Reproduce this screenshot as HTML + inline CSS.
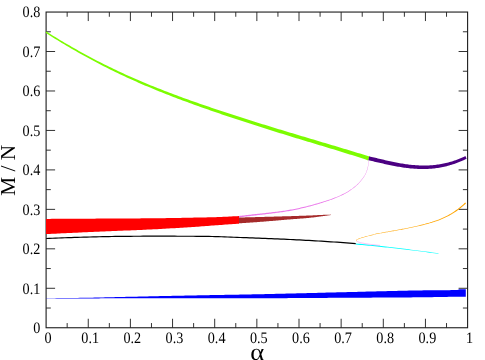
<!DOCTYPE html>
<html><head><meta charset="utf-8"><title>plot</title>
<style>html,body{margin:0;padding:0;background:#fff;}svg{display:block;}.t{font-family:"Liberation Serif",serif;fill:#000;text-rendering:geometricPrecision;filter:grayscale(1);}</style>
</head><body>
<svg width="485" height="360" viewBox="0 0 485 360">
<rect x="0" y="0" width="485" height="360" fill="#fff"/>
<path d="M67.17 327.75 V323.05 M67.17 12.05 V16.75 M88.25 327.75 V318.75 M88.25 12.05 V21.05 M109.33 327.75 V323.05 M109.33 12.05 V16.75 M130.40 327.75 V318.75 M130.40 12.05 V21.05 M151.47 327.75 V323.05 M151.47 12.05 V16.75 M172.55 327.75 V318.75 M172.55 12.05 V21.05 M193.62 327.75 V323.05 M193.62 12.05 V16.75 M214.70 327.75 V318.75 M214.70 12.05 V21.05 M235.78 327.75 V323.05 M235.78 12.05 V16.75 M256.85 327.75 V318.75 M256.85 12.05 V21.05 M277.93 327.75 V323.05 M277.93 12.05 V16.75 M299.00 327.75 V318.75 M299.00 12.05 V21.05 M320.08 327.75 V323.05 M320.08 12.05 V16.75 M341.15 327.75 V318.75 M341.15 12.05 V21.05 M362.23 327.75 V323.05 M362.23 12.05 V16.75 M383.30 327.75 V318.75 M383.30 12.05 V21.05 M404.38 327.75 V323.05 M404.38 12.05 V16.75 M425.45 327.75 V318.75 M425.45 12.05 V21.05 M446.53 327.75 V323.05 M446.53 12.05 V16.75 M46.10 308.02 H50.80 M467.60 308.02 H462.90 M46.10 288.29 H55.10 M467.60 288.29 H458.60 M46.10 268.56 H50.80 M467.60 268.56 H462.90 M46.10 248.82 H55.10 M467.60 248.82 H458.60 M46.10 229.09 H50.80 M467.60 229.09 H462.90 M46.10 209.36 H55.10 M467.60 209.36 H458.60 M46.10 189.63 H50.80 M467.60 189.63 H462.90 M46.10 169.90 H55.10 M467.60 169.90 H458.60 M46.10 150.17 H50.80 M467.60 150.17 H462.90 M46.10 130.44 H55.10 M467.60 130.44 H458.60 M46.10 110.71 H50.80 M467.60 110.71 H462.90 M46.10 90.98 H55.10 M467.60 90.98 H458.60 M46.10 71.24 H50.80 M467.60 71.24 H462.90 M46.10 51.51 H55.10 M467.60 51.51 H458.60 M46.10 31.78 H50.80 M467.60 31.78 H462.90" fill="none" stroke="#1c1c1c" stroke-width="0.9"/>
<rect x="46.10" y="12.05" width="421.50" height="315.70" fill="none" stroke="#1c1c1c" stroke-width="1.10"/>
<path d="M45.60 32.86 L47.92 34.33 L50.24 35.78 L52.56 37.23 L54.88 38.66 L57.20 40.09 L59.52 41.51 L61.84 42.91 L64.16 44.31 L66.48 45.69 L68.80 47.06 L71.12 48.42 L73.44 49.77 L75.76 51.11 L78.08 52.43 L80.40 53.74 L82.72 55.04 L85.04 56.33 L87.36 57.60 L89.68 58.87 L92.00 60.12 L94.32 61.35 L96.64 62.58 L98.97 63.79 L101.29 64.99 L103.61 66.18 L105.93 67.36 L108.25 68.52 L110.57 69.67 L112.89 70.82 L115.21 71.94 L117.54 73.06 L119.86 74.17 L122.18 75.26 L124.50 76.35 L126.82 77.42 L129.14 78.48 L131.46 79.53 L133.79 80.58 L136.11 81.61 L138.43 82.63 L140.75 83.64 L143.07 84.64 L145.39 85.63 L147.71 86.62 L150.04 87.59 L152.36 88.55 L154.68 89.51 L157.00 90.46 L159.32 91.40 L161.64 92.33 L163.96 93.25 L166.29 94.17 L168.61 95.08 L170.93 95.98 L173.25 96.88 L175.57 97.77 L177.89 98.65 L180.21 99.52 L182.53 100.39 L184.86 101.26 L187.18 102.11 L189.50 102.97 L191.82 103.81 L194.14 104.65 L196.46 105.49 L198.78 106.32 L201.10 107.15 L203.42 107.97 L205.74 108.79 L208.06 109.60 L210.39 110.41 L212.71 111.21 L215.03 112.01 L217.35 112.81 L219.67 113.60 L221.99 114.39 L224.31 115.18 L226.63 115.96 L228.95 116.73 L231.27 117.51 L233.59 118.28 L235.91 119.05 L238.24 119.81 L240.56 120.57 L242.88 121.33 L245.20 122.09 L247.52 122.84 L249.84 123.60 L252.16 124.34 L254.48 125.09 L256.80 125.83 L259.12 126.58 L261.44 127.32 L263.76 128.05 L266.09 128.79 L268.41 129.52 L270.73 130.25 L273.05 130.98 L275.37 131.71 L277.69 132.43 L280.01 133.15 L282.33 133.87 L284.65 134.58 L286.97 135.30 L289.30 136.01 L291.62 136.72 L293.94 137.43 L296.26 138.14 L298.58 138.84 L300.90 139.55 L303.22 140.25 L305.55 140.95 L307.87 141.66 L310.19 142.36 L312.51 143.06 L314.83 143.76 L317.15 144.46 L319.47 145.16 L321.79 145.86 L324.11 146.56 L326.43 147.26 L328.75 147.96 L331.07 148.66 L333.39 149.37 L335.71 150.07 L338.03 150.78 L340.35 151.49 L342.66 152.21 L344.98 152.93 L347.30 153.65 L349.61 154.38 L351.93 155.11 L354.24 155.85 L356.56 156.59 L358.87 157.33 L361.18 158.09 L363.50 158.84 L365.81 159.61 L368.12 160.39 L369.38 156.59 L367.05 155.84 L364.72 155.09 L362.38 154.35 L360.05 153.62 L357.72 152.89 L355.39 152.17 L353.07 151.45 L350.74 150.74 L348.41 150.04 L346.08 149.33 L343.75 148.64 L341.43 147.94 L339.10 147.24 L336.78 146.54 L334.45 145.85 L332.13 145.15 L329.80 144.46 L327.48 143.77 L325.15 143.08 L322.83 142.38 L320.51 141.69 L318.18 141.00 L315.86 140.31 L313.54 139.62 L311.22 138.93 L308.89 138.24 L306.57 137.55 L304.25 136.85 L301.92 136.16 L299.60 135.46 L297.28 134.77 L294.96 134.07 L292.63 133.37 L290.31 132.67 L287.99 131.97 L285.67 131.26 L283.35 130.56 L281.02 129.85 L278.70 129.15 L276.38 128.44 L274.05 127.73 L271.73 127.02 L269.41 126.31 L267.08 125.59 L264.76 124.87 L262.44 124.15 L260.11 123.43 L257.79 122.71 L255.47 121.98 L253.14 121.25 L250.82 120.52 L248.50 119.79 L246.18 119.05 L243.85 118.31 L241.53 117.57 L239.21 116.83 L236.88 116.08 L234.56 115.33 L232.24 114.57 L229.91 113.82 L227.59 113.06 L225.27 112.30 L222.95 111.53 L220.62 110.76 L218.30 109.99 L215.98 109.21 L213.65 108.43 L211.33 107.65 L209.01 106.86 L206.68 106.07 L204.36 105.28 L202.04 104.48 L199.71 103.67 L197.39 102.86 L195.07 102.05 L192.75 101.23 L190.42 100.40 L188.10 99.57 L185.78 98.74 L183.45 97.90 L181.13 97.05 L178.81 96.20 L176.49 95.34 L174.16 94.47 L171.84 93.60 L169.52 92.72 L167.20 91.83 L164.87 90.94 L162.55 90.03 L160.23 89.12 L157.91 88.21 L155.58 87.28 L153.26 86.35 L150.94 85.40 L148.62 84.45 L146.29 83.49 L143.97 82.52 L141.65 81.54 L139.33 80.55 L137.00 79.55 L134.68 78.55 L132.36 77.53 L130.04 76.50 L127.71 75.46 L125.39 74.41 L123.07 73.34 L120.75 72.27 L118.42 71.19 L116.10 70.09 L113.78 68.99 L111.46 67.87 L109.13 66.74 L106.81 65.59 L104.49 64.44 L102.17 63.27 L99.84 62.09 L97.52 60.90 L95.20 59.69 L92.88 58.47 L90.55 57.24 L88.23 56.00 L85.91 54.74 L83.58 53.48 L81.26 52.20 L78.94 50.90 L76.61 49.60 L74.29 48.28 L71.97 46.95 L69.64 45.61 L67.32 44.26 L65.00 42.89 L62.67 41.52 L60.35 40.13 L58.02 38.73 L55.70 37.32 L53.37 35.90 L51.05 34.48 L48.72 33.04 L46.40 31.59Z" fill="#7cfc00"/>
<path d="M368.31 160.25 L369.54 160.52 L370.77 160.80 L372.00 161.08 L373.23 161.36 L374.46 161.64 L375.69 161.92 L376.92 162.21 L378.15 162.49 L379.39 162.77 L380.62 163.06 L381.86 163.34 L383.09 163.61 L384.33 163.89 L385.56 164.16 L386.80 164.43 L388.04 164.70 L389.28 164.96 L390.52 165.22 L391.76 165.47 L393.00 165.72 L394.24 165.96 L395.48 166.19 L396.72 166.42 L397.96 166.64 L399.21 166.85 L400.45 167.06 L401.70 167.26 L402.94 167.45 L404.18 167.63 L405.43 167.80 L406.68 167.96 L407.92 168.11 L409.17 168.25 L410.42 168.38 L411.66 168.50 L412.91 168.61 L414.16 168.70 L415.41 168.79 L416.66 168.86 L417.91 168.92 L419.16 168.97 L420.41 169.00 L421.66 169.01 L422.91 169.02 L424.16 169.01 L425.41 168.98 L426.66 168.94 L427.91 168.88 L429.16 168.81 L430.42 168.73 L431.67 168.63 L432.92 168.51 L434.17 168.38 L435.42 168.23 L436.67 168.06 L437.92 167.88 L439.17 167.68 L440.43 167.47 L441.68 167.24 L442.93 166.98 L444.18 166.72 L445.43 166.43 L446.68 166.13 L447.93 165.81 L449.18 165.47 L450.43 165.11 L451.68 164.73 L452.93 164.34 L454.17 163.92 L455.42 163.49 L456.67 163.04 L457.92 162.57 L459.16 162.08 L460.41 161.57 L461.66 161.04 L462.90 160.49 L464.15 159.92 L465.39 159.34 L466.63 158.74 L465.37 156.12 L464.15 156.70 L462.93 157.25 L461.71 157.79 L460.50 158.31 L459.28 158.80 L458.06 159.28 L456.85 159.74 L455.63 160.18 L454.42 160.60 L453.21 161.00 L451.99 161.39 L450.78 161.75 L449.57 162.10 L448.35 162.43 L447.14 162.74 L445.93 163.04 L444.72 163.32 L443.51 163.57 L442.29 163.82 L441.08 164.04 L439.87 164.25 L438.66 164.44 L437.45 164.62 L436.24 164.78 L435.03 164.92 L433.82 165.05 L432.61 165.16 L431.40 165.25 L430.19 165.33 L428.98 165.40 L427.76 165.45 L426.55 165.48 L425.34 165.51 L424.13 165.51 L422.92 165.51 L421.71 165.49 L420.50 165.46 L419.29 165.41 L418.07 165.36 L416.86 165.29 L415.65 165.21 L414.43 165.11 L413.22 165.01 L412.01 164.89 L410.79 164.77 L409.58 164.63 L408.36 164.48 L407.15 164.32 L405.93 164.16 L404.71 163.98 L403.50 163.79 L402.28 163.60 L401.06 163.39 L399.84 163.18 L398.62 162.96 L397.40 162.73 L396.18 162.50 L394.96 162.26 L393.74 162.01 L392.52 161.76 L391.30 161.50 L390.08 161.23 L388.85 160.96 L387.63 160.69 L386.40 160.41 L385.18 160.13 L383.95 159.85 L382.73 159.56 L381.50 159.27 L380.27 158.98 L379.04 158.69 L377.81 158.39 L376.58 158.10 L375.35 157.80 L374.12 157.51 L372.89 157.22 L371.66 156.93 L370.42 156.64 L369.19 156.35Z" fill="#4b0082"/>
<path d="M239.08 217.34 L240.35 217.19 L241.61 217.04 L242.88 216.89 L244.14 216.73 L245.40 216.58 L246.67 216.43 L247.93 216.28 L249.20 216.13 L250.46 215.98 L251.73 215.83 L252.99 215.68 L254.26 215.53 L255.52 215.39 L256.79 215.24 L258.05 215.10 L259.32 214.95 L260.58 214.81 L261.85 214.66 L263.12 214.52 L264.38 214.38 L265.65 214.23 L266.91 214.08 L268.18 213.93 L269.45 213.78 L270.71 213.63 L271.98 213.47 L273.24 213.32 L274.51 213.16 L275.77 213.00 L277.04 212.84 L278.30 212.67 L279.57 212.51 L280.83 212.34 L282.10 212.16 L283.36 211.97 L284.62 211.78 L285.88 211.58 L287.14 211.37 L288.40 211.16 L289.66 210.93 L290.92 210.70 L292.17 210.46 L293.42 210.21 L294.68 209.96 L295.93 209.70 L297.17 209.44 L298.42 209.18 L299.67 208.90 L300.91 208.62 L302.16 208.33 L303.40 208.04 L304.64 207.74 L305.88 207.43 L307.12 207.12 L308.35 206.80 L309.59 206.48 L310.82 206.15 L312.05 205.81 L313.28 205.46 L314.51 205.11 L315.73 204.74 L316.95 204.38 L318.17 204.01 L319.39 203.63 L320.61 203.26 L321.83 202.88 L323.05 202.50 L324.26 202.12 L325.48 201.73 L326.69 201.34 L327.91 200.94 L329.12 200.53 L330.32 200.11 L331.52 199.67 L332.72 199.22 L333.91 198.76 L335.10 198.28 L336.28 197.80 L337.46 197.30 L338.63 196.80 L339.80 196.28 L340.96 195.75 L342.12 195.20 L343.27 194.64 L344.40 194.05 L345.53 193.44 L346.64 192.80 L347.74 192.15 L348.83 191.47 L349.90 190.77 L350.96 190.05 L352.00 189.31 L353.03 188.55 L354.05 187.76 L355.04 186.95 L356.01 186.12 L356.96 185.27 L357.89 184.39 L358.79 183.47 L359.67 182.54 L360.52 181.58 L361.34 180.60 L362.13 179.59 L362.89 178.56 L363.62 177.50 L364.31 176.43 L364.98 175.33 L365.61 174.21 L366.15 173.05 L366.63 171.87 L367.05 170.65 L367.42 169.42 L367.74 168.19 L368.03 166.94 L368.29 165.68 L368.49 164.42 L368.65 163.16 L368.79 161.89 L368.89 160.61 L368.61 160.59 L368.51 161.86 L368.37 163.12 L368.20 164.38 L368.00 165.63 L367.74 166.88 L367.45 168.11 L367.12 169.34 L366.75 170.55 L366.33 171.76 L365.86 172.92 L365.31 174.05 L364.69 175.16 L364.01 176.24 L363.31 177.30 L362.59 178.34 L361.82 179.35 L361.03 180.35 L360.20 181.31 L359.36 182.25 L358.48 183.17 L357.57 184.06 L356.65 184.93 L355.70 185.77 L354.73 186.58 L353.74 187.37 L352.72 188.14 L351.69 188.89 L350.65 189.61 L349.60 190.31 L348.53 190.99 L347.44 191.65 L346.34 192.29 L345.23 192.91 L344.11 193.50 L342.98 194.06 L341.84 194.61 L340.69 195.14 L339.52 195.65 L338.35 196.16 L337.18 196.65 L336.01 197.14 L334.83 197.61 L333.64 198.07 L332.46 198.52 L331.26 198.96 L330.07 199.38 L328.87 199.79 L327.66 200.19 L326.45 200.57 L325.23 200.95 L324.02 201.33 L322.80 201.70 L321.58 202.07 L320.36 202.43 L319.14 202.80 L317.92 203.16 L316.70 203.52 L315.48 203.87 L314.25 204.22 L313.03 204.57 L311.80 204.90 L310.58 205.23 L309.35 205.54 L308.11 205.86 L306.88 206.16 L305.64 206.46 L304.41 206.76 L303.17 207.05 L301.93 207.33 L300.69 207.61 L299.44 207.88 L298.20 208.14 L296.96 208.40 L295.71 208.65 L294.46 208.90 L293.21 209.14 L291.96 209.38 L290.71 209.61 L289.46 209.84 L288.21 210.06 L286.96 210.27 L285.71 210.47 L284.45 210.66 L283.19 210.84 L281.94 211.02 L280.68 211.19 L279.42 211.35 L278.15 211.51 L276.89 211.67 L275.63 211.82 L274.36 211.97 L273.10 212.12 L271.83 212.27 L270.57 212.42 L269.30 212.57 L268.04 212.71 L266.77 212.85 L265.51 212.99 L264.24 213.13 L262.98 213.27 L261.71 213.41 L260.44 213.54 L259.18 213.68 L257.91 213.82 L256.64 213.95 L255.38 214.09 L254.11 214.23 L252.84 214.37 L251.58 214.52 L250.31 214.66 L249.05 214.80 L247.78 214.95 L246.51 215.09 L245.25 215.23 L243.98 215.38 L242.72 215.52 L241.45 215.67 L240.18 215.81 L238.92 215.96Z" fill="#ea78ea"/>
<path d="M46.00 218.90 L47.95 218.89 L49.90 218.88 L51.85 218.87 L53.80 218.86 L55.75 218.85 L57.70 218.84 L59.65 218.83 L61.60 218.82 L63.55 218.81 L65.50 218.79 L67.45 218.78 L69.40 218.77 L71.35 218.76 L73.30 218.75 L75.25 218.74 L77.20 218.73 L79.15 218.72 L81.10 218.71 L83.05 218.70 L85.00 218.69 L86.95 218.67 L88.90 218.66 L90.85 218.65 L92.80 218.64 L94.75 218.63 L96.70 218.62 L98.65 218.61 L100.60 218.60 L102.55 218.59 L104.50 218.57 L106.45 218.56 L108.40 218.55 L110.35 218.54 L112.30 218.53 L114.25 218.52 L116.20 218.51 L118.15 218.50 L120.10 218.49 L122.05 218.48 L124.00 218.47 L125.95 218.46 L127.90 218.45 L129.84 218.44 L131.79 218.43 L133.74 218.42 L135.69 218.41 L137.64 218.39 L139.59 218.38 L141.54 218.37 L143.49 218.35 L145.44 218.34 L147.39 218.32 L149.34 218.31 L151.29 218.29 L153.24 218.27 L155.19 218.25 L157.14 218.23 L159.09 218.20 L161.04 218.18 L162.99 218.15 L164.94 218.13 L166.89 218.10 L168.84 218.07 L170.79 218.04 L172.74 218.01 L174.69 217.98 L176.64 217.94 L178.59 217.91 L180.54 217.88 L182.49 217.84 L184.44 217.80 L186.39 217.77 L188.34 217.73 L190.29 217.69 L192.24 217.65 L194.19 217.62 L196.14 217.58 L198.08 217.54 L200.03 217.50 L201.98 217.46 L203.93 217.42 L205.88 217.38 L207.83 217.34 L209.78 217.29 L211.73 217.24 L213.68 217.19 L215.63 217.14 L217.58 217.08 L219.53 217.02 L221.48 216.95 L223.42 216.87 L225.37 216.78 L227.32 216.69 L229.27 216.59 L231.21 216.48 L233.16 216.37 L235.11 216.25 L237.05 216.13 L239.00 216.00 L239.00 223.70 L237.05 223.83 L235.10 223.96 L233.16 224.09 L231.21 224.22 L229.26 224.35 L227.31 224.49 L225.36 224.62 L223.42 224.76 L221.47 224.90 L219.52 225.03 L217.57 225.18 L215.63 225.32 L213.68 225.47 L211.73 225.62 L209.79 225.78 L207.84 225.93 L205.89 226.08 L203.95 226.22 L202.00 226.36 L200.05 226.50 L198.10 226.63 L196.16 226.76 L194.21 226.89 L192.26 227.02 L190.31 227.15 L188.36 227.27 L186.41 227.40 L184.47 227.52 L182.52 227.65 L180.57 227.77 L178.62 227.89 L176.67 228.01 L174.72 228.13 L172.77 228.25 L170.82 228.36 L168.87 228.48 L166.93 228.59 L164.98 228.70 L163.03 228.81 L161.08 228.92 L159.13 229.03 L157.18 229.13 L155.23 229.23 L153.28 229.34 L151.33 229.43 L149.38 229.53 L147.43 229.62 L145.48 229.72 L143.53 229.81 L141.58 229.89 L139.63 229.98 L137.68 230.06 L135.73 230.15 L133.78 230.23 L131.82 230.31 L129.87 230.39 L127.92 230.47 L125.97 230.55 L124.02 230.62 L122.07 230.70 L120.12 230.78 L118.17 230.85 L116.22 230.93 L114.27 231.01 L112.31 231.09 L110.36 231.16 L108.41 231.24 L106.46 231.32 L104.51 231.41 L102.56 231.49 L100.61 231.57 L98.66 231.66 L96.71 231.75 L94.76 231.83 L92.81 231.92 L90.86 232.01 L88.91 232.09 L86.96 232.18 L85.01 232.27 L83.06 232.36 L81.11 232.45 L79.15 232.54 L77.20 232.63 L75.25 232.72 L73.30 232.81 L71.35 232.90 L69.40 232.99 L67.45 233.08 L65.50 233.17 L63.55 233.26 L61.60 233.35 L59.65 233.45 L57.70 233.54 L55.75 233.63 L53.80 233.72 L51.85 233.82 L49.90 233.91 L47.95 234.01 L46.00 234.10Z" fill="#ff0000"/>
<path d="M239.00 217.50 L239.93 217.48 L240.86 217.46 L241.78 217.44 L242.71 217.42 L243.64 217.40 L244.57 217.38 L245.49 217.35 L246.42 217.33 L247.35 217.31 L248.28 217.29 L249.20 217.27 L250.13 217.24 L251.06 217.22 L251.99 217.20 L252.91 217.18 L253.84 217.15 L254.77 217.13 L255.70 217.11 L256.62 217.09 L257.55 217.06 L258.48 217.04 L259.41 217.02 L260.33 216.99 L261.26 216.97 L262.19 216.94 L263.11 216.92 L264.04 216.89 L264.97 216.87 L265.90 216.84 L266.82 216.82 L267.75 216.79 L268.68 216.77 L269.61 216.74 L270.53 216.72 L271.46 216.69 L272.39 216.66 L273.32 216.64 L274.24 216.61 L275.17 216.58 L276.10 216.56 L277.03 216.53 L277.95 216.50 L278.88 216.48 L279.81 216.45 L280.74 216.42 L281.66 216.40 L282.59 216.37 L283.52 216.34 L284.44 216.32 L285.37 216.29 L286.30 216.26 L287.23 216.24 L288.15 216.21 L289.08 216.18 L290.01 216.15 L290.94 216.13 L291.86 216.10 L292.79 216.07 L293.72 216.04 L294.65 216.01 L295.57 215.98 L296.50 215.95 L297.43 215.92 L298.35 215.89 L299.28 215.86 L300.21 215.84 L301.14 215.81 L302.06 215.77 L302.99 215.74 L303.92 215.71 L304.85 215.68 L305.77 215.65 L306.70 215.61 L307.63 215.58 L308.55 215.55 L309.48 215.51 L310.41 215.47 L311.34 215.43 L312.26 215.39 L313.19 215.34 L314.12 215.29 L315.04 215.24 L315.97 215.20 L316.89 215.15 L317.82 215.10 L318.75 215.05 L319.67 215.01 L320.60 214.96 L321.53 214.92 L322.46 214.89 L323.38 214.85 L324.31 214.81 L325.24 214.78 L326.16 214.75 L327.09 214.72 L328.02 214.69 L328.95 214.66 L329.87 214.63 L330.80 214.60 L330.80 215.00 L329.88 215.15 L328.96 215.29 L328.04 215.44 L327.12 215.58 L326.20 215.72 L325.28 215.85 L324.36 215.99 L323.43 216.12 L322.51 216.24 L321.59 216.37 L320.66 216.49 L319.74 216.61 L318.82 216.74 L317.89 216.86 L316.97 216.97 L316.05 217.09 L315.12 217.20 L314.20 217.31 L313.27 217.42 L312.34 217.52 L311.42 217.62 L310.49 217.72 L309.57 217.81 L308.64 217.90 L307.71 217.99 L306.79 218.07 L305.86 218.15 L304.93 218.23 L304.00 218.30 L303.07 218.38 L302.14 218.45 L301.22 218.52 L300.29 218.59 L299.36 218.66 L298.43 218.73 L297.50 218.80 L296.57 218.88 L295.64 218.95 L294.71 219.02 L293.79 219.10 L292.86 219.17 L291.93 219.25 L291.00 219.32 L290.07 219.39 L289.14 219.47 L288.22 219.54 L287.29 219.62 L286.36 219.69 L285.43 219.76 L284.50 219.84 L283.57 219.92 L282.65 220.00 L281.72 220.07 L280.79 220.15 L279.86 220.23 L278.93 220.31 L278.01 220.39 L277.08 220.47 L276.15 220.55 L275.22 220.64 L274.30 220.72 L273.37 220.80 L272.44 220.88 L271.51 220.96 L270.58 221.04 L269.66 221.12 L268.73 221.20 L267.80 221.28 L266.87 221.36 L265.94 221.43 L265.02 221.51 L264.09 221.58 L263.16 221.66 L262.23 221.73 L261.30 221.80 L260.37 221.87 L259.44 221.94 L258.52 222.01 L257.59 222.08 L256.66 222.14 L255.73 222.21 L254.80 222.28 L253.87 222.34 L252.94 222.41 L252.01 222.47 L251.08 222.53 L250.15 222.60 L249.23 222.66 L248.30 222.72 L247.37 222.78 L246.44 222.84 L245.51 222.90 L244.58 222.96 L243.65 223.02 L242.72 223.08 L241.79 223.13 L240.86 223.19 L239.93 223.25 L239.00 223.30Z" fill="#a52a2a"/>
<path d="M46.20 238.50 L49.33 238.37 L52.45 238.24 L55.58 238.12 L58.71 238.00 L61.84 237.89 L64.96 237.77 L68.09 237.66 L71.22 237.56 L74.35 237.46 L77.47 237.36 L80.60 237.26 L83.73 237.17 L86.86 237.08 L89.99 237.00 L93.12 236.92 L96.24 236.85 L99.37 236.77 L102.50 236.70 L105.63 236.63 L108.76 236.57 L111.89 236.51 L115.02 236.46 L118.15 236.42 L121.28 236.39 L124.41 236.36 L127.54 236.33 L130.66 236.30 L133.79 236.27 L136.92 236.25 L140.05 236.23 L143.18 236.21 L146.31 236.20 L149.44 236.20 L152.57 236.20 L155.70 236.20 L158.83 236.20 L161.96 236.21 L165.09 236.21 L168.22 236.21 L171.35 236.22 L174.48 236.22 L177.61 236.23 L180.74 236.24 L183.87 236.25 L187.00 236.25 L190.13 236.26 L193.26 236.27 L196.38 236.29 L199.51 236.30 L202.64 236.32 L205.77 236.36 L208.90 236.42 L212.03 236.49 L215.16 236.57 L218.29 236.65 L221.42 236.74 L224.54 236.85 L227.67 236.98 L230.80 237.12 L233.92 237.25 L237.05 237.38 L240.18 237.50 L243.31 237.61 L246.43 237.72 L249.56 237.82 L252.69 237.93 L255.82 238.04 L258.94 238.16 L262.07 238.28 L265.20 238.41 L268.32 238.53 L271.45 238.66 L274.58 238.80 L277.70 238.93 L280.83 239.07 L283.96 239.22 L287.08 239.36 L290.21 239.51 L293.34 239.66 L296.46 239.82 L299.59 239.97 L302.71 240.14 L305.84 240.30 L308.96 240.47 L312.09 240.64 L315.21 240.82 L318.34 241.00 L321.46 241.19 L324.58 241.38 L327.71 241.58 L330.83 241.78 L333.95 241.99 L337.07 242.20 L340.20 242.42 L343.32 242.65 L346.44 242.88 L349.56 243.12 L352.68 243.36 L355.80 243.60" fill="none" stroke="#000" stroke-width="1.2"/>
<path d="M355.75 244.52 L357.88 244.70 L360.01 244.88 L362.13 245.07 L364.26 245.25 L366.38 245.45 L368.51 245.64 L370.63 245.85 L372.76 246.05 L374.88 246.26 L377.00 246.47 L379.12 246.69 L381.25 246.92 L383.37 247.15 L385.49 247.38 L387.61 247.62 L389.73 247.86 L391.85 248.10 L393.97 248.34 L396.09 248.59 L398.21 248.84 L400.33 249.09 L402.45 249.33 L404.57 249.58 L406.69 249.83 L408.81 250.07 L410.93 250.32 L413.05 250.57 L415.17 250.83 L417.29 251.08 L419.41 251.34 L421.53 251.60 L423.65 251.86 L425.76 252.12 L427.88 252.38 L430.00 252.65 L432.12 252.91 L434.24 253.18 L436.35 253.45 L438.47 253.72 L438.53 253.28 L436.41 252.99 L434.30 252.70 L432.18 252.41 L430.07 252.12 L427.95 251.84 L425.84 251.56 L423.72 251.28 L421.60 251.00 L419.49 250.72 L417.37 250.44 L415.25 250.17 L413.13 249.90 L411.02 249.63 L408.90 249.36 L406.78 249.09 L404.66 248.83 L402.54 248.56 L400.43 248.30 L398.31 248.03 L396.19 247.77 L394.07 247.51 L391.95 247.26 L389.83 247.00 L387.71 246.75 L385.59 246.50 L383.47 246.26 L381.34 246.02 L379.22 245.78 L377.10 245.55 L374.98 245.33 L372.85 245.10 L370.73 244.89 L368.60 244.67 L366.48 244.47 L364.35 244.26 L362.23 244.06 L360.10 243.86 L357.97 243.67 L355.85 243.48Z" fill="#00ffff"/>
<path d="M356.60 241.20 L357.36 241.53 L358.12 241.85 L358.89 242.15 L359.67 242.41 L360.45 242.62 L361.25 242.81 L362.04 242.99 L362.85 243.15 L363.66 243.31 L364.47 243.46 L365.28 243.60 L366.10 243.73 L366.92 243.86 L367.74 243.98 L368.55 244.10 L369.37 244.21 L370.18 244.33 L371.00 244.43 L371.81 244.54 L372.63 244.64 L373.45 244.75 L374.26 244.84 L375.08 244.94 L375.90 245.02 L376.72 245.11 L377.54 245.19 L378.36 245.26 L379.18 245.34 L380.00 245.40" fill="none" stroke="#ee82ee" stroke-width="0.5"/>
<path d="M356.79 241.14 L356.45 240.09 L357.17 239.60 L358.41 239.15 L359.52 238.73 L360.65 238.35 L361.79 237.99 L362.93 237.64 L364.08 237.31 L365.22 236.99 L366.38 236.68 L367.53 236.37 L368.69 236.07 L369.85 235.77 L371.00 235.48 L372.16 235.18 L373.32 234.89 L374.48 234.60 L375.64 234.33 L376.80 234.06 L377.97 233.81 L379.14 233.58 L380.31 233.36 L381.48 233.15 L382.66 232.95 L383.84 232.75 L385.02 232.55 L386.20 232.34 L387.37 232.14 L388.55 231.94 L389.73 231.74 L390.91 231.54 L392.08 231.33 L393.26 231.13 L394.44 230.92 L395.62 230.71 L396.79 230.49 L397.97 230.28 L399.14 230.06 L400.32 229.85 L401.50 229.63 L402.67 229.42 L403.85 229.20 L405.03 228.98 L406.20 228.76 L407.38 228.53 L408.55 228.30 L409.73 228.07 L410.90 227.84 L412.07 227.60 L413.24 227.35 L414.41 227.10 L415.58 226.84 L416.74 226.58 L417.91 226.31 L419.07 226.03 L420.24 225.76 L421.40 225.47 L422.57 225.19 L423.73 224.89 L424.89 224.59 L426.05 224.29 L427.21 223.98 L428.37 223.66 L429.53 223.33 L430.68 223.00 L431.83 222.66 L432.97 222.30 L434.12 221.95 L435.25 221.58 L436.38 221.20 L437.51 220.81 L438.63 220.41 L439.76 219.98 L440.88 219.54 L441.99 219.08 L443.10 218.60 L444.20 218.11 L445.30 217.60 L446.38 217.08 L447.45 216.55 L448.51 216.00 L449.57 215.44 L450.62 214.85 L451.66 214.24 L452.70 213.62 L453.72 212.98 L454.74 212.33 L455.75 211.66 L456.74 210.98 L457.72 210.29 L458.69 209.58 L459.65 208.87 L460.59 208.13 L461.53 207.37 L462.45 206.59 L463.36 205.80 L464.26 204.99 L465.14 204.16 L466.02 203.33 L465.18 202.47 L464.33 203.31 L463.46 204.13 L462.59 204.94 L461.70 205.73 L460.80 206.50 L459.89 207.26 L458.97 208.00 L458.04 208.72 L457.09 209.42 L456.13 210.12 L455.16 210.80 L454.17 211.47 L453.18 212.13 L452.17 212.78 L451.16 213.41 L450.14 214.02 L449.11 214.61 L448.08 215.18 L447.03 215.74 L445.98 216.28 L444.91 216.81 L443.84 217.33 L442.76 217.83 L441.66 218.32 L440.57 218.79 L439.47 219.24 L438.36 219.67 L437.25 220.07 L436.13 220.47 L435.01 220.85 L433.88 221.22 L432.75 221.58 L431.61 221.94 L430.47 222.29 L429.32 222.63 L428.18 222.96 L427.02 223.28 L425.87 223.60 L424.71 223.91 L423.56 224.22 L422.40 224.52 L421.24 224.81 L420.08 225.10 L418.91 225.38 L417.75 225.66 L416.59 225.94 L415.43 226.21 L414.27 226.47 L413.11 226.73 L411.94 226.98 L410.78 227.23 L409.61 227.47 L408.44 227.71 L407.26 227.95 L406.09 228.18 L404.92 228.41 L403.75 228.63 L402.57 228.86 L401.40 229.08 L400.22 229.30 L399.04 229.52 L397.87 229.74 L396.69 229.96 L395.52 230.18 L394.35 230.40 L393.17 230.61 L391.99 230.82 L390.82 231.02 L389.64 231.23 L388.46 231.44 L387.29 231.64 L386.11 231.85 L384.93 232.06 L383.76 232.27 L382.58 232.47 L381.40 232.67 L380.22 232.88 L379.04 233.11 L377.87 233.35 L376.70 233.60 L375.53 233.87 L374.37 234.15 L373.21 234.44 L372.05 234.74 L370.89 235.04 L369.73 235.34 L368.58 235.64 L367.42 235.94 L366.26 236.25 L365.11 236.57 L363.96 236.90 L362.81 237.24 L361.67 237.59 L360.52 237.95 L359.38 238.34 L358.26 238.77 L356.98 239.24 L356.06 239.98 L356.41 241.26Z" fill="#ffa500"/>
<path d="M46.10 298.20 L48.21 298.19 L50.32 298.17 L52.43 298.16 L54.54 298.14 L56.65 298.12 L58.76 298.10 L60.87 298.08 L62.98 298.06 L65.09 298.04 L67.20 298.01 L69.31 297.99 L71.42 297.96 L73.53 297.94 L75.64 297.91 L77.75 297.88 L79.86 297.85 L81.97 297.82 L84.08 297.79 L86.19 297.75 L88.30 297.71 L90.41 297.67 L92.52 297.63 L94.63 297.58 L96.74 297.54 L98.85 297.49 L100.96 297.44 L103.07 297.39 L105.18 297.34 L107.29 297.29 L109.40 297.24 L111.51 297.19 L113.62 297.14 L115.73 297.09 L117.84 297.05 L119.95 297.00 L122.06 296.96 L124.17 296.91 L126.28 296.86 L128.39 296.82 L130.50 296.77 L132.61 296.73 L134.72 296.68 L136.83 296.63 L138.94 296.59 L141.05 296.54 L143.16 296.49 L145.27 296.45 L147.38 296.40 L149.49 296.35 L151.59 296.31 L153.70 296.26 L155.81 296.21 L157.92 296.17 L160.03 296.12 L162.14 296.07 L164.25 296.03 L166.36 295.98 L168.47 295.94 L170.58 295.89 L172.69 295.85 L174.80 295.81 L176.91 295.76 L179.02 295.72 L181.13 295.68 L183.24 295.64 L185.35 295.59 L187.46 295.55 L189.57 295.51 L191.68 295.47 L193.79 295.43 L195.90 295.39 L198.01 295.35 L200.12 295.32 L202.23 295.28 L204.34 295.24 L206.45 295.20 L208.56 295.16 L210.67 295.12 L212.78 295.09 L214.89 295.05 L217.00 295.01 L219.11 294.97 L221.22 294.94 L223.33 294.90 L225.44 294.86 L227.55 294.82 L229.66 294.78 L231.77 294.75 L233.88 294.71 L235.99 294.67 L238.10 294.63 L240.21 294.59 L242.32 294.55 L244.43 294.51 L246.54 294.47 L248.65 294.43 L250.76 294.39 L252.87 294.35 L254.98 294.30 L257.09 294.26 L259.20 294.22 L261.31 294.17 L263.42 294.13 L265.53 294.08 L267.64 294.04 L269.75 293.99 L271.86 293.94 L273.97 293.89 L276.08 293.85 L278.19 293.80 L280.30 293.75 L282.41 293.70 L284.51 293.65 L286.62 293.60 L288.73 293.55 L290.84 293.50 L292.95 293.45 L295.06 293.40 L297.17 293.35 L299.28 293.30 L301.39 293.24 L303.50 293.19 L305.61 293.14 L307.72 293.09 L309.83 293.04 L311.94 292.98 L314.05 292.93 L316.16 292.88 L318.27 292.83 L320.38 292.78 L322.49 292.72 L324.60 292.67 L326.71 292.62 L328.82 292.57 L330.93 292.52 L333.04 292.47 L335.15 292.42 L337.26 292.37 L339.37 292.32 L341.48 292.26 L343.58 292.21 L345.69 292.16 L347.80 292.11 L349.91 292.06 L352.02 292.00 L354.13 291.95 L356.24 291.89 L358.35 291.84 L360.46 291.79 L362.57 291.73 L364.68 291.67 L366.79 291.62 L368.90 291.56 L371.01 291.51 L373.12 291.45 L375.23 291.40 L377.34 291.34 L379.45 291.29 L381.56 291.24 L383.67 291.18 L385.78 291.13 L387.89 291.08 L390.00 291.03 L392.11 290.98 L394.22 290.93 L396.33 290.88 L398.44 290.83 L400.54 290.78 L402.65 290.73 L404.76 290.69 L406.87 290.64 L408.98 290.60 L411.09 290.56 L413.20 290.52 L415.31 290.48 L417.42 290.44 L419.53 290.41 L421.65 290.38 L423.77 290.35 L425.91 290.33 L428.06 290.31 L430.21 290.29 L432.36 290.28 L434.52 290.27 L436.67 290.26 L438.82 290.25 L440.96 290.23 L443.09 290.21 L445.21 290.19 L447.32 290.16 L449.40 290.13 L451.47 290.09 L453.52 290.04 L455.55 289.98 L457.54 289.92 L459.47 289.20 L461.49 289.17 L463.59 289.15 L465.80 289.15 L465.80 296.70 L463.69 296.76 L461.58 296.79 L459.47 296.80 L457.36 296.80 L455.26 296.81 L453.15 296.82 L451.04 296.83 L448.93 296.86 L446.82 296.88 L444.71 296.91 L442.60 296.95 L440.49 296.98 L438.38 297.02 L436.28 297.06 L434.17 297.09 L432.06 297.13 L429.95 297.17 L427.84 297.20 L425.73 297.23 L423.62 297.26 L421.51 297.29 L419.40 297.31 L417.30 297.32 L415.19 297.34 L413.08 297.36 L410.97 297.38 L408.86 297.39 L406.75 297.41 L404.64 297.42 L402.53 297.44 L400.42 297.45 L398.31 297.47 L396.21 297.48 L394.10 297.50 L391.99 297.51 L389.88 297.52 L387.77 297.54 L385.66 297.55 L383.55 297.56 L381.44 297.57 L379.33 297.59 L377.22 297.60 L375.11 297.61 L373.01 297.62 L370.90 297.63 L368.79 297.65 L366.68 297.66 L364.57 297.67 L362.46 297.68 L360.35 297.69 L358.24 297.70 L356.13 297.71 L354.02 297.72 L351.92 297.74 L349.81 297.75 L347.70 297.76 L345.59 297.77 L343.48 297.78 L341.37 297.79 L339.26 297.80 L337.15 297.82 L335.04 297.83 L332.93 297.84 L330.82 297.85 L328.72 297.87 L326.61 297.88 L324.50 297.90 L322.39 297.91 L320.28 297.92 L318.17 297.94 L316.06 297.95 L313.95 297.97 L311.84 297.98 L309.73 297.99 L307.63 298.01 L305.52 298.02 L303.41 298.03 L301.30 298.05 L299.19 298.06 L297.08 298.07 L294.97 298.09 L292.86 298.10 L290.75 298.11 L288.64 298.12 L286.53 298.13 L284.43 298.14 L282.32 298.15 L280.21 298.16 L278.10 298.17 L275.99 298.17 L273.88 298.18 L271.77 298.18 L269.66 298.19 L267.55 298.19 L265.44 298.20 L263.33 298.20 L261.23 298.20 L259.12 298.20 L257.01 298.20 L254.90 298.20 L252.79 298.20 L250.68 298.20 L248.57 298.20 L246.46 298.20 L244.35 298.20 L242.24 298.20 L240.14 298.20 L238.03 298.20 L235.92 298.20 L233.81 298.20 L231.70 298.20 L229.59 298.20 L227.48 298.20 L225.37 298.20 L223.26 298.20 L221.15 298.20 L219.04 298.20 L216.94 298.20 L214.83 298.20 L212.72 298.20 L210.61 298.20 L208.50 298.20 L206.39 298.20 L204.28 298.20 L202.17 298.20 L200.06 298.20 L197.95 298.20 L195.84 298.20 L193.74 298.20 L191.63 298.20 L189.52 298.20 L187.41 298.20 L185.30 298.20 L183.19 298.20 L181.08 298.20 L178.97 298.20 L176.86 298.20 L174.75 298.20 L172.64 298.20 L170.54 298.20 L168.43 298.21 L166.32 298.21 L164.21 298.21 L162.10 298.21 L159.99 298.22 L157.88 298.22 L155.77 298.22 L153.66 298.23 L151.55 298.23 L149.44 298.23 L147.34 298.24 L145.23 298.24 L143.12 298.25 L141.01 298.25 L138.90 298.26 L136.79 298.26 L134.68 298.27 L132.57 298.27 L130.46 298.28 L128.35 298.28 L126.24 298.29 L124.14 298.29 L122.03 298.30 L119.92 298.30 L117.81 298.31 L115.70 298.31 L113.59 298.32 L111.48 298.33 L109.37 298.34 L107.26 298.34 L105.15 298.35 L103.04 298.36 L100.94 298.37 L98.83 298.38 L96.72 298.39 L94.61 298.40 L92.50 298.41 L90.39 298.42 L88.28 298.43 L86.17 298.43 L84.06 298.44 L81.95 298.45 L79.85 298.45 L77.74 298.45 L75.63 298.46 L73.52 298.46 L71.41 298.47 L69.30 298.47 L67.19 298.48 L65.08 298.48 L62.97 298.48 L60.86 298.49 L58.75 298.49 L56.65 298.49 L54.54 298.49 L52.43 298.50 L50.32 298.50 L48.21 298.50 L46.10 298.50Z" fill="#0000ff"/>
<g class="t" font-size="14.2"><text transform="translate(48.00,343.15) scale(1.000,1.120)" text-anchor="middle">0</text>
<text transform="translate(90.15,343.15) scale(1.000,1.120)" text-anchor="middle">0.1</text>
<text transform="translate(132.30,343.15) scale(1.000,1.120)" text-anchor="middle">0.2</text>
<text transform="translate(174.45,343.15) scale(1.000,1.120)" text-anchor="middle">0.3</text>
<text transform="translate(216.60,343.15) scale(1.000,1.120)" text-anchor="middle">0.4</text>
<text transform="translate(258.75,343.15) scale(1.000,1.120)" text-anchor="middle">0.5</text>
<text transform="translate(300.90,343.15) scale(1.000,1.120)" text-anchor="middle">0.6</text>
<text transform="translate(343.05,343.15) scale(1.000,1.120)" text-anchor="middle">0.7</text>
<text transform="translate(385.20,343.15) scale(1.000,1.120)" text-anchor="middle">0.8</text>
<text transform="translate(427.35,343.15) scale(1.000,1.120)" text-anchor="middle">0.9</text>
<text transform="translate(469.50,343.15) scale(1.000,1.120)" text-anchor="middle">1</text>
<text transform="translate(40.30,333.05) scale(1.000,1.120)" text-anchor="end">0</text>
<text transform="translate(40.30,293.59) scale(1.000,1.120)" text-anchor="end">0.1</text>
<text transform="translate(40.30,254.12) scale(1.000,1.120)" text-anchor="end">0.2</text>
<text transform="translate(40.30,214.66) scale(1.000,1.120)" text-anchor="end">0.3</text>
<text transform="translate(40.30,175.20) scale(1.000,1.120)" text-anchor="end">0.4</text>
<text transform="translate(40.30,135.74) scale(1.000,1.120)" text-anchor="end">0.5</text>
<text transform="translate(40.30,96.28) scale(1.000,1.120)" text-anchor="end">0.6</text>
<text transform="translate(40.30,56.81) scale(1.000,1.120)" text-anchor="end">0.7</text>
<text transform="translate(40.30,17.35) scale(1.000,1.120)" text-anchor="end">0.8</text></g>
<g class="t"><text transform="translate(15.2,170.2) rotate(-90)" text-anchor="middle" font-size="21.3">M / N</text></g>
<g class="t"><text transform="translate(257.1,360.3) scale(1.11,1)" text-anchor="middle" font-size="24">α</text></g>
</svg>
</body></html>
